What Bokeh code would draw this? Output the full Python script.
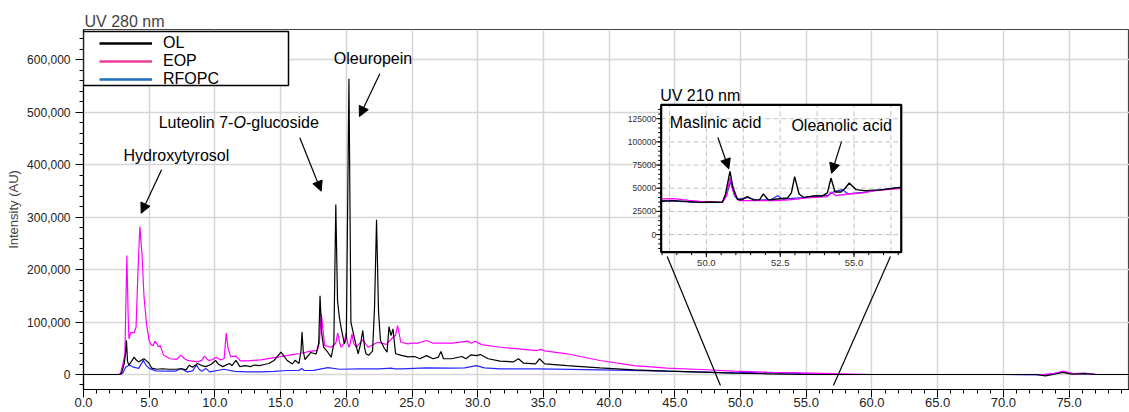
import numpy as np
from bokeh.plotting import figure
from bokeh.models import (Range1d, SingleIntervalTicker, NumeralTickFormatter, Label, Arrow,
                          NormalHead, BoxAnnotation, Legend, LegendItem)
from bokeh.core.properties import value
from bokeh.embed import file_html
from bokeh.resources import INLINE

FONT = "Liberation Sans"

# ---------------- main chromatogram (UV 280 nm), time in min, intensity in AU ----------------
OL_T = [0.0, 2.7, 2.9, 3.1, 3.2, 3.27, 3.35, 3.45, 3.7, 3.85,
        4.0, 4.2, 4.4, 4.6, 4.8, 4.97, 5.2, 5.6, 6.0, 6.5,
        7.0, 7.5, 7.8, 8.05, 8.3, 8.68, 9.0, 9.3, 9.7, 10.05,
        10.3, 10.6, 11.1, 11.3, 11.6, 11.9, 12.3, 12.7, 13.0, 13.4,
        13.75, 14.1, 14.5, 15.03, 15.5, 15.9, 16.1, 16.4, 16.55, 16.63,
        16.72, 16.85, 17.3, 17.7, 17.9, 18.0, 18.12, 18.27, 18.6, 18.85,
        19.05, 19.2, 19.33, 19.47, 19.6, 19.85, 20.0, 20.2, 20.35, 20.6,
        20.9, 21.1, 21.25, 21.4, 21.5, 21.7, 22.0, 22.15, 22.3, 22.45,
        22.6, 22.9, 23.1, 23.25, 23.4, 23.55, 23.75, 24.2, 24.7, 25.2,
        25.6, 26.1, 26.6, 27.0, 27.2, 27.4, 28.0, 28.8, 29.1, 29.5,
        29.9, 30.2, 30.8, 31.7, 32.7, 33.1, 33.5, 34.4, 34.7, 35.1,
        36.8, 39.3, 41.9, 44.4, 47.0, 49.5, 52.0, 54.6, 60.0, 65.0,
        70.0, 72.5, 73.2, 73.8, 74.5, 75.2, 76.2, 77.0, 79.6]
OL_V = [0, 0, 3000, 21000, 40000, 65000, 25000, 18000, 27000, 33000,
        28000, 24000, 27000, 30000, 26000, 22000, 12000, 10000, 11000, 10000,
        10000, 11000, 9000, 17800, 14000, 21000, 17000, 15000, 19000, 26700,
        19000, 15000, 21000, 17000, 27000, 15000, 17000, 15000, 18000, 17000,
        19000, 21000, 26700, 42500, 26700, 20000, 27000, 21000, 45000, 81000,
        45000, 28600, 42000, 39000, 60000, 150000, 80000, 52000, 42000, 33000,
        58500, 324000, 141000, 109000, 90000, 58500, 70000, 564000, 100000, 71000,
        39500, 60000, 84000, 50000, 39500, 36500, 45000, 130000, 295000, 120000,
        65000, 49600, 42500, 91500, 74000, 87000, 39500, 36500, 33700, 34300,
        30000, 36000, 30000, 33000, 43800, 30000, 30000, 34300, 30000, 37500,
        36000, 38000, 30000, 25500, 24000, 30000, 21600, 20300, 30000, 20300,
        17000, 12700, 8900, 6400, 4500, 2500, 1300, 0, 0, 0,
        0, 0, -2500, 0, 3800, 500, 1500, 0, 0]

EOP_T = [0.0, 2.8, 3.0, 3.15, 3.3, 3.4, 3.46, 3.6, 3.86, 4.0,
         4.15, 4.29, 4.45, 4.6, 4.8, 5.0, 5.13, 5.3, 5.43, 5.6,
         5.69, 5.84, 6.09, 6.6, 7.1, 7.41, 7.7, 7.9, 8.67, 9.0,
         9.2, 9.5, 9.8, 10.1, 10.4, 10.7, 10.86, 11.0, 11.2, 11.6,
         11.95, 12.5, 13.5, 15.0, 15.9, 16.5, 17.2, 17.8, 17.95, 18.1,
         18.35, 18.85, 19.2, 19.35, 19.5, 19.6, 19.85, 19.97, 20.1, 20.2,
         20.3, 20.43, 20.55, 20.75, 21.25, 21.65, 22.4, 23.05, 23.55, 23.75,
         23.9, 24.15, 24.7, 25.0, 25.5, 26.1, 26.6, 28.1, 29.25, 29.5,
         29.8, 30.3, 31.7, 34.5, 34.8, 35.1, 36.8, 39.3, 41.9, 44.4,
         47.0, 49.5, 52.0, 54.6, 57.0, 60.0, 65.0, 70.0, 73.0, 73.8,
         74.55, 75.3, 76.2, 77.0, 79.6]
EOP_V = [0, 0, 20000, 40000, 227000, 110000, 68000, 80000, 80000, 90000,
         200000, 282000, 230000, 150000, 95000, 64000, 57000, 55000, 63500, 58000,
         53000, 55000, 37000, 30000, 29000, 37000, 30000, 27000, 24000, 27000,
         35000, 27000, 28000, 33000, 28000, 30000, 78800, 50000, 34000, 35000,
         26000, 26000, 28000, 34000, 38000, 40000, 44000, 46000, 60000, 115700,
         55000, 52000, 60000, 79500, 60000, 52000, 60000, 79000, 60000, 52000,
         60000, 77600, 60000, 52000, 66000, 52000, 61500, 57500, 71000, 75000,
         93000, 61500, 58500, 59700, 60000, 64800, 59700, 59700, 63500, 59700,
         63500, 57000, 52000, 45700, 48000, 45000, 39500, 26700, 17000, 12000,
         9500, 6400, 4500, 3000, 1500, 0, 0, 0, 0, 1500,
         6400, 1500, 2000, 500, 0]

RF_T = [0.0, 2.8, 3.0, 3.2, 3.5, 3.8, 4.2, 4.55, 4.75, 5.0,
        5.5, 6.5, 7.0, 7.4, 7.9, 8.3, 8.6, 8.8, 9.0, 9.3,
        9.6, 10.7, 11.5, 12.5, 13.5, 14.5, 15.5, 16.4, 16.6, 16.8,
        17.5, 18.6, 19.5, 21.0, 22.5, 23.4, 23.7, 24.2, 26.1, 28.0,
        29.0, 29.9, 30.5, 31.7, 34.7, 39.3, 44.4, 49.5, 50.8, 51.5,
        52.3, 53.0, 53.9, 54.6, 57.0, 60.0, 65.0, 70.0, 73.0, 73.8,
        74.55, 75.3, 76.2, 77.0, 79.6]
RF_V = [0, 0, 3000, 14000, 18000, 14000, 11600, 27000, 18000, 11600,
        7000, 6400, 6400, 11600, 5000, 7000, 17800, 10000, 6400, 11600,
        5000, 10000, 6000, 5000, 5000, 6000, 7600, 7600, 11600, 7600,
        8000, 13000, 10000, 10800, 10800, 12000, 10800, 10800, 12700, 12000,
        12700, 17000, 12700, 10800, 10800, 8900, 6400, 3200, 4000, 2500,
        4000, 2000, 3000, 1500, 0, 0, 0, 0, -1000, 1500,
        5000, 1500, 2000, 500, 0]

# ---------------- inset chromatogram (UV 210 nm) ----------------
OL_IN_T = [48.47, 48.9, 49.4, 49.8, 50.2, 50.54, 50.65, 50.8, 50.9, 51.05,
           51.2, 51.39, 51.6, 51.8, 51.93, 52.1, 52.41, 52.75, 52.88, 52.99,
           53.14, 53.3, 53.65, 53.93, 54.1, 54.22, 54.36, 54.56, 54.7, 54.84,
           55.07, 55.35, 55.9, 56.6]
OL_IN_V = [35900, 36600, 35500, 34800, 35200, 34800, 43800, 68200, 51000, 38000,
           37500, 41000, 37300, 37500, 43800, 37300, 38400, 39500, 45000, 62500,
           43800, 40000, 41700, 41700, 45000, 61000, 46000, 46000, 50000, 55700,
           48500, 47400, 48200, 51000]
EOP_IN_T = [48.47, 48.9, 49.4, 49.8, 50.54, 50.68, 50.8, 50.94, 51.1, 51.5,
            52.3, 52.8, 53.4, 54.1, 54.22, 54.39, 54.8, 55.3, 55.7, 56.6]
EOP_IN_V = [38500, 38800, 37000, 35900, 34800, 42000, 61000, 43800, 36600, 36600,
            36600, 37500, 39500, 41000, 46000, 42000, 43800, 45000, 47400, 50000]
RF_IN_T = [48.47, 48.9, 49.8, 50.54, 50.68, 50.82, 50.95, 51.05, 51.39, 51.7,
           52.2, 52.41, 52.6, 52.9, 53.3, 53.75, 54.1, 54.3, 54.6, 54.8,
           55.3, 55.7, 56.6]
RF_IN_V = [36600, 36000, 34800, 34800, 42000, 57000, 42000, 38400, 40000, 37300,
           37800, 42000, 38000, 39000, 40000, 42000, 42000, 46000, 48500, 44000,
           45500, 47400, 51000]

SERIES = ["OL", "EOP", "RFOPC"]
LINE_COLORS = ["#000000", "#ff00ff", "#2626ff"]
LEGEND_COLORS = ["#000000", "#ee3d96", "#1f6fc0"]
INSET_X_TICKS = [50.0, 52.5, 55.0]
INSET_X_LABELS = ["50.0", "52.5", "55.0"]
INSET_Y_TICKS = [0, 25000, 50000, 75000, 100000, 125000]
INSET_Y_LABELS = ["0", "25000", "50000", "75000", "100000", "125000"]

# ---------------- figure ----------------
p = figure(width=1129, height=412, x_range=Range1d(0, 79.6), y_range=Range1d(-28600, 657800),
           output_backend="svg", toolbar_location=None,
           min_border_left=83, min_border_right=0, min_border_top=29, min_border_bottom=23,
           title="UV 280 nm")
p.background_fill_color = "white"
p.border_fill_color = "white"
p.outline_line_color = "#444444"
p.outline_line_width = 1.2

p.title.text_font = FONT
p.title.text_font_size = "16px"
p.title.text_font_style = "normal"
p.title.align = "left"
p.title.offset = 1
p.title.standoff = 0

p.xaxis.ticker = SingleIntervalTicker(interval=5, num_minor_ticks=5)
p.yaxis.ticker = SingleIntervalTicker(interval=100000, num_minor_ticks=5)
p.xaxis.formatter = NumeralTickFormatter(format="0.0")
p.yaxis.formatter = NumeralTickFormatter(format="0,0")
for ax in (p.xaxis, p.yaxis):
    ax.axis_line_color = "black"
    ax.axis_line_width = 1.2
    ax.major_tick_line_color = "black"
    ax.minor_tick_line_color = "black"
    ax.major_tick_in = 0
    ax.minor_tick_in = 0
    ax.major_tick_out = 8
    ax.minor_tick_out = 4
    ax.major_label_text_font = FONT
    ax.major_label_text_color = "#222222"
p.xaxis.major_label_text_font_size = "13px"
p.xaxis.major_label_standoff = 0
p.yaxis.major_label_text_font_size = "12px"
p.yaxis.major_label_standoff = 5
p.yaxis.axis_label = "Intensity (AU)"
p.yaxis.axis_label_text_font = FONT
p.yaxis.axis_label_text_font_size = "13px"
p.yaxis.axis_label_text_font_style = "normal"
p.yaxis.axis_label_standoff = 3

p.xgrid.grid_line_color = "#d6d6d6"
p.ygrid.grid_line_color = "#d6d6d6"
p.xgrid.grid_line_width = 1.5
p.ygrid.grid_line_width = 1.5

p.line(RF_T, RF_V, line_color=LINE_COLORS[2], line_width=1.2)
p.line(EOP_T, EOP_V, line_color=LINE_COLORS[1], line_width=1.2)
p.line(OL_T, OL_V, line_color=LINE_COLORS[0], line_width=1.2)

# zoom connector lines
p.segment(x0=[44.42, 61.41], y0=[225000, 225000], x1=[48.47, 57.07], y1=[-21000, -21000],
          line_color="black", line_width=1.2)

# ---------------- inset (sub-coordinate system) ----------------
IX0, IX1, IY0, IY1 = 48.47, 56.6, -19000, 140000
TX0, TX1, TY0, TY1 = 43.96, 62.23, 233200, 514200
sub = p.subplot(x_source=Range1d(IX0, IX1), y_source=Range1d(IY0, IY1),
                x_target=Range1d(TX0, TX1), y_target=Range1d(TY0, TY1))


def to_main(t, v):
    return (TX0 + (t - IX0) / (IX1 - IX0) * (TX1 - TX0),
            TY0 + (v - IY0) / (IY1 - IY0) * (TY1 - TY0))


sub.quad(left=[IX0], right=[IX1], bottom=[IY0], top=[IY1], fill_color="white", line_alpha=0)
gx = list(np.arange(48.75, 56.5, 1.25))
sub.segment(x0=gx, x1=gx, y0=[IY0] * len(gx), y1=[IY1] * len(gx),
            line_color="#c4c4c4", line_width=1, line_dash="5 3")
sub.segment(x0=[IX0] * len(INSET_Y_TICKS), x1=[IX1] * len(INSET_Y_TICKS),
            y0=INSET_Y_TICKS, y1=INSET_Y_TICKS, line_color="#c4c4c4", line_width=1, line_dash="5 3")
sub.line(RF_IN_T, RF_IN_V, line_color=LINE_COLORS[2], line_width=1.2)
sub.line(EOP_IN_T, EOP_IN_V, line_color=LINE_COLORS[1], line_width=1.3)
sub.line(OL_IN_T, OL_IN_V, line_color=LINE_COLORS[0], line_width=1.4)
sub.quad(left=[IX0], right=[IX1], bottom=[IY0], top=[IY1], fill_alpha=0,
         line_color="black", line_width=2.2)

# inset ticks
xminor = list(np.arange(48.5, 56.6, 0.5))
sub.ray(x=xminor, y=[IY0] * len(xminor), length=3, angle=-np.pi / 2, length_units="screen",
        line_color="black", line_width=1)
sub.ray(x=INSET_X_TICKS, y=[IY0] * 3, length=5, angle=-np.pi / 2, length_units="screen",
        line_color="black", line_width=1)
yminor = list(np.arange(-15000, 140000, 5000))
sub.ray(x=[IX0] * len(yminor), y=yminor, length=3, angle=np.pi, length_units="screen",
        line_color="black", line_width=1)
sub.ray(x=[IX0] * len(INSET_Y_TICKS), y=INSET_Y_TICKS, length=5, angle=np.pi, length_units="screen",
        line_color="black", line_width=1)
sub.text(x=INSET_X_TICKS, y=[IY0] * 3, text=INSET_X_LABELS, text_font=value(FONT),
         text_font_size="9.5px", text_align="center", text_baseline="middle", y_offset=11,
         text_color="#333333")
sub.text(x=[IX0] * len(INSET_Y_TICKS), y=INSET_Y_TICKS, text=INSET_Y_LABELS, text_font=value(FONT),
         text_font_size="8.5px", text_align="right", text_baseline="middle", x_offset=-5,
         text_color="#333333")
sub.text(x=[IX0], y=[IY1], text=["UV 210 nm"], text_font=value(FONT), text_font_size="16px",
         text_align="left", text_baseline="bottom", y_offset=-1, x_offset=-1, text_color="black")
sub.text(x=[48.76, 52.88], y=[120700, 117500], text=["Maslinic acid", "Oleanolic acid"],
         text_font=value(FONT), text_font_size="16px", text_align="left", text_baseline="middle",
         text_color="black")

# ---------------- annotations ----------------
def arrow(x0, y0, x1, y1):
    p.add_layout(Arrow(x_start=x0, y_start=y0, x_end=x1, y_end=y1, line_color="black", line_width=1.2,
                       end=NormalHead(size=10, fill_color="black", line_color="black", line_width=1)))


arrow(22.55, 573300, 21.0, 491900)
arrow(16.46, 451300, 18.09, 349500)
arrow(5.94, 390300, 4.39, 307500)
a0 = to_main(50.39, 104800); a1 = to_main(50.76, 70800)
arrow(a0[0], a0[1], a1[0], a1[1])
b0 = to_main(54.58, 100500); b1 = to_main(54.24, 66100)
arrow(b0[0], b0[1], b1[0], b1[1])


def label(x, y, text, align="left", style="normal", xoff=0):
    p.add_layout(Label(x=x, y=y, text=text, text_font=FONT, text_font_size="16px",
                       text_align=align, text_baseline="middle", text_font_style=style,
                       x_offset=xoff, text_color="black"))


label(22.03, 601900, "Oleuropein", align="center")
label(3.04, 417500, "Hydroxytyrosol")
label(11.41, 481400, "Luteolin 7-", align="right")
label(11.41, 481400, "O", style="italic")
label(11.41, 481400, "-glucoside", xoff=12.5)

p.add_layout(Label(x=77.85, y=-40000, text="min", text_font=FONT, text_font_size="13px",
                   text_align="left", text_baseline="top", text_color="#222222"))

# legend box and legend
p.add_layout(BoxAnnotation(left=0.0, right=15.6, top=654000, bottom=551000,
                           fill_color="white", fill_alpha=1, line_color="black", line_alpha=1,
                           line_width=1.5))
dummies = [p.line(x=[np.nan], y=[np.nan], line_color=c, line_width=2.5) for c in LEGEND_COLORS]
legend = Legend(items=[LegendItem(label=n, renderers=[r]) for n, r in zip(SERIES, dummies)],
                location=(16, 301), orientation="vertical", padding=0, spacing=-4,
                glyph_width=53, glyph_height=16, label_height=16, label_standoff=11,
                label_text_font=FONT, label_text_font_size="16px", label_text_color="black",
                border_line_alpha=0, background_fill_alpha=0, margin=0)
p.add_layout(legend)

open("out.html", "w").write(file_html(p, INLINE))
